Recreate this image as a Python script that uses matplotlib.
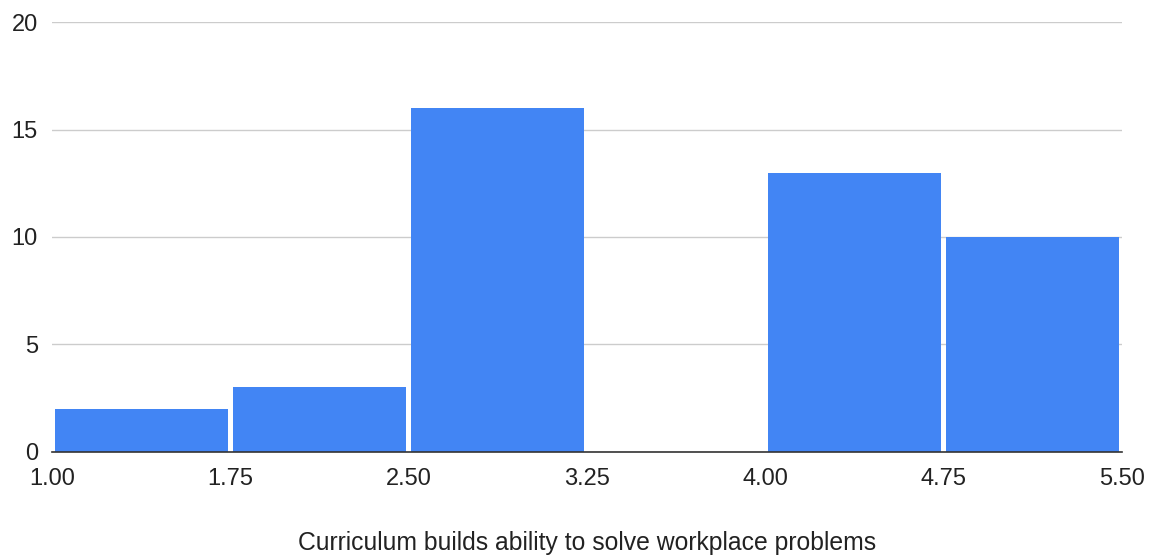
import numpy as np
import matplotlib.pyplot as plt

plt.rcParams['font.family'] = ['Liberation Sans', 'DejaVu Sans']

# histogram bins and counts
bin_edges = [1.00, 1.75, 2.50, 3.25, 4.00, 4.75, 5.50]
counts = [2, 3, 16, 0, 13, 10]
x_ticks = [1.00, 1.75, 2.50, 3.25, 4.00, 4.75, 5.50]
y_ticks = [0, 5, 10, 15, 20]
x_label = 'Curriculum builds ability to solve workplace problems'

fig = plt.figure(figsize=(11.53, 5.55), dpi=100)
ax = fig.add_axes([0.045, 0.186, 0.928, 0.774])

# small inset on each side so bars are separated by a thin white gap
inset = 0.011
lefts = np.array(bin_edges[:-1]) + inset
widths = np.diff(bin_edges) - 2 * inset
ax.bar(lefts, counts, width=widths, align='edge', color='#4285F4',
       linewidth=0, zorder=3)

ax.set_xlim(1.00, 5.50)
ax.set_ylim(0, 20)
ax.set_xticks(x_ticks)
ax.set_xticklabels([f'{t:.2f}' for t in x_ticks])
ax.set_yticks(y_ticks)
ax.grid(axis='y', color='#cccccc', linewidth=1, zorder=0)
ax.tick_params(length=0, labelsize=17, colors='#222222')
ax.tick_params(axis='x', pad=12)
ax.tick_params(axis='y', pad=10)

for s in ['top', 'right', 'left']:
    ax.spines[s].set_visible(False)
ax.spines['bottom'].set_color('#333333')
ax.spines['bottom'].set_linewidth(1.2)
ax.spines['bottom'].set_zorder(4)

ax.set_xlabel(x_label, fontsize=17.8, color='#222222', labelpad=29)

fig.savefig('out.png', dpi=100)
